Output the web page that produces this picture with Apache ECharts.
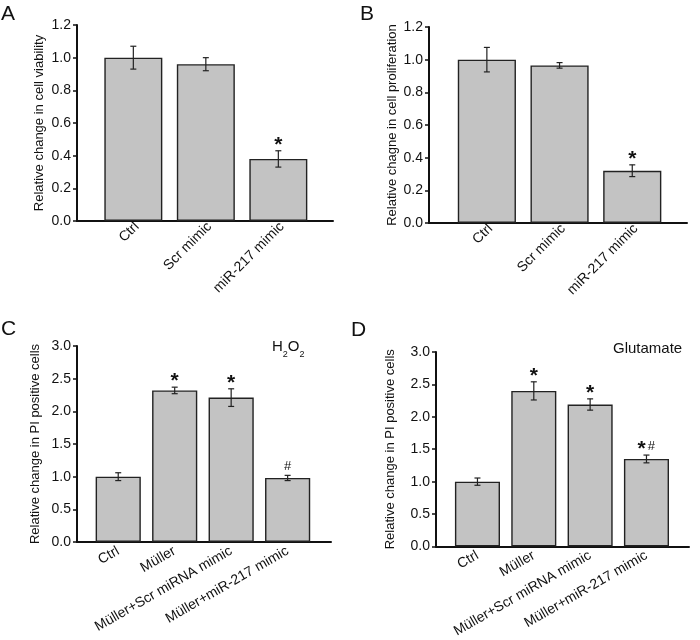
<!DOCTYPE html>
<html>
<head>
<meta charset="utf-8">
<script src="https://cdn.jsdelivr.net/npm/echarts@6/dist/echarts.min.js"></script>
<style>
html,body{margin:0;padding:0;background:#fff;}
#chart{width:700px;height:640px;}
</style>
</head>
<body>
<div id="chart"></div>
<script>
// ---- data ----
const categoriesAB = ['Ctrl', 'Scr mimic', 'miR-217 mimic'];
const viability = [1.0, 0.96, 0.38];
const viabilityErr = [0.07, 0.04, 0.05];
const viabilityMarks = ['', '', '*'];

const proliferation = [1.0, 0.965, 0.32];
const proliferationErr = [0.075, 0.017, 0.036];
const proliferationMarks = ['', '', '*'];

const categoriesCD = ['Ctrl', 'Müller', 'Müller+Scr miRNA mimic', 'Müller+miR-217 mimic'];
const h2o2 = [1.0, 2.32, 2.21, 0.98];
const h2o2Err = [0.06, 0.05, 0.135, 0.04];
const h2o2Marks = ['', '*', '*', '#'];

const glutamate = [1.0, 2.40, 2.19, 1.35];
const glutamateErr = [0.056, 0.14, 0.087, 0.06];
const glutamateMarks = ['', '*', '*', '*#'];

const yTicksAB = [0, 0.2, 0.4, 0.6, 0.8, 1.0, 1.2];
const yTicksCD = [0, 0.5, 1.0, 1.5, 2.0, 2.5, 3.0];

// ---- styling ----
const FONT = "'Liberation Sans', Arial, Helvetica, sans-serif";
const INK = '#111';

const panels = [
  {cats: categoriesAB, vals: viability, errs: viabilityErr, marks: viabilityMarks, ticks: yTicksAB,
   name: 'Relative change in cell viability', nameGap: 31,
   grid: {left: 77, top: 25, right: 367, bottom: 419}, xMin: -0.777, xMax: 2.754,
   rotate: 45, labelMargin: 7, labelPad: [0, -5, 0, 0]},
  {cats: categoriesAB, vals: proliferation, errs: proliferationErr, marks: proliferationMarks, ticks: yTicksAB,
   name: 'Relative chagne in cell proliferation', nameGap: 30,
   grid: {left: 429, top: 27, right: 13, bottom: 417}, xMin: -0.796, xMax: 2.753,
   rotate: 45, labelMargin: 7, labelPad: [0, -5, 0, 0]},
  {cats: categoriesCD, vals: h2o2, errs: h2o2Err, marks: h2o2Marks, ticks: yTicksCD,
   name: 'Relative change in PI positive cells', nameGap: 35,
   grid: {left: 77, top: 346, right: 369, bottom: 98}, xMin: -0.73, xMax: 3.768,
   rotate: 30, labelMargin: 8, labelPad: 0},
  {cats: categoriesCD, vals: glutamate, errs: glutamateErr, marks: glutamateMarks, ticks: yTicksCD,
   name: 'Relative change in PI positive cells', nameGap: 39,
   grid: {left: 436, top: 352, right: 11, bottom: 92}, xMin: -0.736, xMax: 3.755,
   rotate: 30, labelMargin: 8, labelPad: 0}
];

const grid = [], xAxis = [], yAxis = [], series = [];
panels.forEach((p, k) => {
  grid.push(Object.assign({containLabel: false}, p.grid));
  xAxis.push({
    type: 'value', gridIndex: k, min: p.xMin, max: p.xMax,
    axisLine: {show: true, onZero: false, lineStyle: {color: INK, width: 2}},
    axisTick: {show: false},
    splitLine: {show: false},
    axisLabel: {
      customValues: p.cats.map((c, i) => i),
      formatter: v => p.cats[Math.round(v)],
      rotate: p.rotate, margin: p.labelMargin, padding: p.labelPad,
      fontFamily: FONT, fontSize: 14, color: INK
    }
  });
  const tmax = p.ticks[p.ticks.length - 1];
  yAxis.push({
    type: 'value', gridIndex: k, min: p.ticks[0], max: tmax, interval: p.ticks[1] - p.ticks[0],
    name: p.name, nameLocation: 'middle', nameGap: p.nameGap, nameRotate: 90,
    nameTextStyle: {fontFamily: FONT, fontSize: 13, color: INK},
    axisLine: {show: true, onZero: false, lineStyle: {color: INK, width: 2}},
    axisTick: {show: true, inside: false, length: 4, lineStyle: {color: INK, width: 1.5}},
    splitLine: {show: false},
    axisLabel: {formatter: v => v.toFixed(1), margin: 6, fontFamily: FONT, fontSize: 14, color: INK}
  });
  series.push({
    type: 'bar', xAxisIndex: k, yAxisIndex: k, barWidth: '80%',
    data: p.vals.map((v, i) => [i, v]),
    itemStyle: {color: '#c3c3c3', borderColor: '#222', borderWidth: 1.4},
    silent: true
  });
  series.push({
    type: 'custom', xAxisIndex: k, yAxisIndex: k, silent: true, z: 5,
    data: p.vals.map((v, i) => [i, v, p.errs[i]]),
    renderItem: (params, api) => {
      const x = api.value(0), v = api.value(1), e = api.value(2);
      const top = api.coord([x, v + e]);
      const bot = api.coord([x, v - e]);
      const cw = 3;
      const st = {stroke: '#222', lineWidth: 1.2};
      const children = [
        {type: 'line', shape: {x1: top[0], y1: top[1], x2: bot[0], y2: bot[1]}, style: st},
        {type: 'line', shape: {x1: top[0] - cw, y1: top[1], x2: top[0] + cw, y2: top[1]}, style: st},
        {type: 'line', shape: {x1: bot[0] - cw, y1: bot[1], x2: bot[0] + cw, y2: bot[1]}, style: st}
      ];
      const m = p.marks[params.dataIndex];
      if (m) {
        const chars = m.split('');
        chars.forEach((ch, j) => {
          const dx = chars.length > 1 ? (j === 0 ? -5 : 5) : 0;
          if (ch === '*') {
            children.push({type: 'text', x: top[0] + dx, y: top[1] - 6,
              style: {text: '*', align: 'center', verticalAlign: 'middle',
                font: 'bold 21px ' + FONT, fill: INK}});
          } else {
            children.push({type: 'text', x: top[0] + dx, y: top[1] - 8.5,
              style: {text: '#', align: 'center', verticalAlign: 'middle',
                font: '13px ' + FONT, fill: INK}});
          }
        });
      }
      return {type: 'group', children};
    }
  });
});

const letterStyle = {fontFamily: FONT, fontSize: 21, fontWeight: 'normal', color: INK};
const title = [
  {text: 'A', left: 1, top: 4, textStyle: letterStyle, padding: 0},
  {text: 'B', left: 360, top: 4, textStyle: letterStyle, padding: 0},
  {text: 'C', left: 1, top: 319, textStyle: letterStyle, padding: 0},
  {text: 'D', left: 351, top: 320, textStyle: letterStyle, padding: 0},
  {text: '{n|H}{s|2}{n|O}{s|2}', left: 272, top: 339, padding: 0,
   textStyle: {fontWeight: 'normal', rich: {
     n: {fontFamily: FONT, fontSize: 15, fontWeight: 'normal', color: INK, lineHeight: 20, verticalAlign: 'top'},
     s: {fontFamily: FONT, fontSize: 9, fontWeight: 'normal', color: INK, lineHeight: 8, verticalAlign: 'bottom'}
   }}},
  {text: 'Glutamate', left: 613, top: 341, padding: 0,
   textStyle: {fontFamily: FONT, fontSize: 15, fontWeight: 'normal', color: INK}}
];

const chart = echarts.init(document.getElementById('chart'), null, {renderer: 'canvas'});
chart.setOption({
  animation: false,
  backgroundColor: '#fff',
  title, grid, xAxis, yAxis, series
});
</script>
</body>
</html>
